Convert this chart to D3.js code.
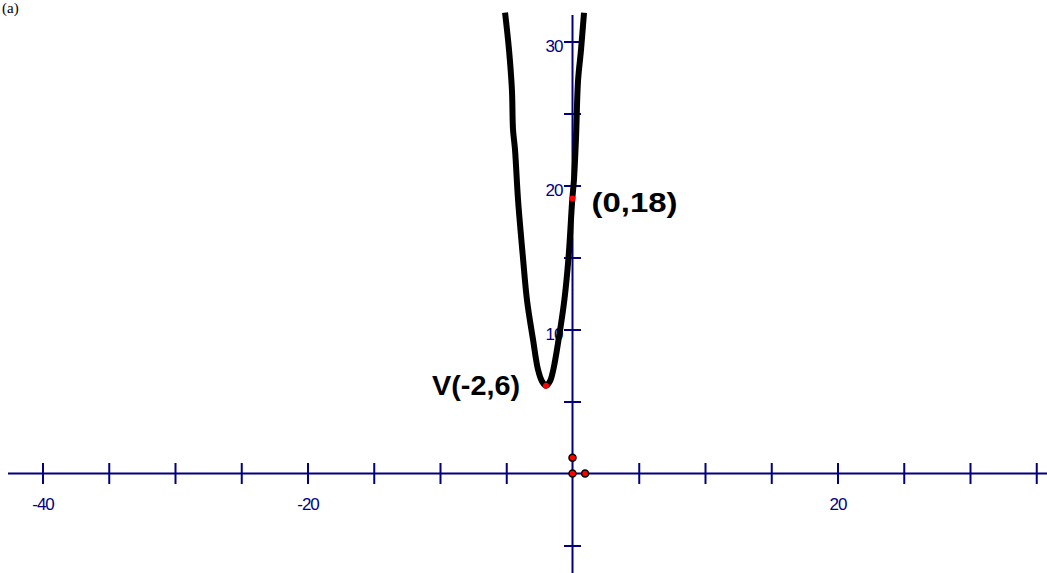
<!DOCTYPE html>
<html>
<head>
<meta charset="utf-8">
<script src="https://cdn.jsdelivr.net/npm/d3@7"></script>
<style>
  body { margin: 0; background: #fff; }
  svg { display: block; }
</style>
</head>
<body>
<div id="graph"></div>
<script>
const width = 1047;
const height = 573;

// tick values
const xTicks = [-40, -35, -30, -25, -20, -15, -10, -5, 5, 10, 15, 20, 25, 30, 35];
const xLabels = [-40, -20, 20];
const yTicks = [-5, 5, 10, 15, 20, 25, 30];
const yLabels = [10, 20, 30];

// parabola (x, y)
const curveX = [-5.09, -4.79, -4.57, -4.49, -4.34, -4.11, -3.74, -3.43, -2.98, -2.6, -2.3, -2.0,
                -1.7, -1.45, -1.05, -0.62, -0.3, -0.02, 0.11, 0.26, 0.42, 0.64, 0.87];
const curveY = [32.0, 29.4, 26.6, 23.9, 22.5, 19.0, 15.0, 12.0, 9.3, 7.2, 6.4, 6.1,
                6.4, 7.2, 9.3, 12.0, 15.0, 19.0, 20.4, 23.2, 27.3, 29.4, 32.0];

// labelled points
const pointX = [-2, 0];
const pointY = [6.1, 19.1];
const pointLabels = ["V(-2,6)", "(0,18)"];

// small dots near the origin
const dotX = [0, 0, 0.95];
const dotY = [1.1, 0, 0];

const navy = "#000080";

const x = d3.scaleLinear().domain([-40, 20]).range([42.5, 837.5]);
const y = d3.scaleLinear().domain([0, 30]).range([473.5, 41.5]);

const svg = d3.select("#graph")
  .append("svg")
  .attr("width", width)
  .attr("height", height)
  .style("background", "#fff");

// "(a)" in the top-left corner
svg.append("text")
  .attr("x", 2)
  .attr("y", 13)
  .attr("font-family", "Liberation Serif, serif")
  .attr("font-size", 15)
  .attr("fill", "#000")
  .text("(a)");

// axis lines
svg.append("line")
  .attr("x1", 8).attr("x2", width)
  .attr("y1", y(0)).attr("y2", y(0))
  .attr("stroke", navy).attr("stroke-width", 2);

svg.append("line")
  .attr("x1", x(0)).attr("x2", x(0))
  .attr("y1", 15).attr("y2", height)
  .attr("stroke", navy).attr("stroke-width", 2);

// x ticks through the axis
const xAxis = svg.append("g")
  .attr("transform", `translate(0, ${y(0)})`)
  .call(d3.axisBottom(x).tickValues(xTicks).tickSize(10.5)
    .tickFormat(d => xLabels.includes(d) ? d : ""));
xAxis.select(".domain").remove();
xAxis.selectAll(".tick line")
  .attr("y1", -10.5).attr("y2", 10.5)
  .attr("stroke", navy).attr("stroke-width", 2);
xAxis.selectAll(".tick text")
  .attr("y", 36).attr("dy", 0)
  .attr("fill", navy)
  .attr("font-family", "Liberation Sans, Arial, sans-serif")
  .attr("font-size", 17)
  .attr("letter-spacing", "-1");

// y ticks through the axis
const yAxis = svg.append("g")
  .attr("transform", `translate(${x(0)}, 0)`)
  .call(d3.axisLeft(y).tickValues(yTicks).tickSize(8.5)
    .tickFormat(d => yLabels.includes(d) ? d : ""));
yAxis.select(".domain").remove();
yAxis.selectAll(".tick line")
  .attr("x1", -8.5).attr("x2", 8.5)
  .attr("stroke", navy).attr("stroke-width", 2);
yAxis.selectAll(".tick text")
  .attr("x", -10).attr("dy", 10)
  .attr("fill", navy)
  .attr("font-family", "Liberation Sans, Arial, sans-serif")
  .attr("font-size", 17)
  .attr("letter-spacing", "-1");

// the parabola
const curvePts = curveX.map((d, i) => [d, curveY[i]]);
svg.append("path")
  .datum(curvePts)
  .attr("d", d3.line().x(d => x(d[0])).y(d => y(d[1])).curve(d3.curveCatmullRom))
  .attr("fill", "none")
  .attr("stroke", "#000")
  .attr("stroke-width", 6)
  .attr("stroke-linejoin", "round")
  .attr("stroke-linecap", "butt");

// labelled points
svg.selectAll(".pt")
  .data(pointX)
  .enter()
  .append("circle")
  .attr("class", "pt")
  .attr("cx", d => x(d))
  .attr("cy", (d, i) => y(pointY[i]))
  .attr("r", 3)
  .attr("fill", "#ff0000");

const labelPos = [
  { dx: -114, dy: 9, len: 88 },
  { dx: 19, dy: 14, len: 86 }
];
svg.selectAll(".lbl")
  .data(pointLabels)
  .enter()
  .append("text")
  .attr("class", "lbl")
  .attr("x", (d, i) => x(pointX[i]) + labelPos[i].dx)
  .attr("y", (d, i) => y(pointY[i]) + labelPos[i].dy)
  .attr("textLength", (d, i) => labelPos[i].len)
  .attr("lengthAdjust", "spacingAndGlyphs")
  .attr("font-family", "Liberation Sans, Arial, sans-serif")
  .attr("font-weight", "bold")
  .attr("font-size", 28)
  .attr("fill", "#000")
  .text(d => d);

// dots near origin
svg.selectAll(".dot")
  .data(dotX)
  .enter()
  .append("circle")
  .attr("class", "dot")
  .attr("cx", d => x(d))
  .attr("cy", (d, i) => y(dotY[i]))
  .attr("r", 3.5)
  .attr("fill", "#ff0000")
  .attr("stroke", "#000")
  .attr("stroke-width", 1.5);
</script>
</body>
</html>
